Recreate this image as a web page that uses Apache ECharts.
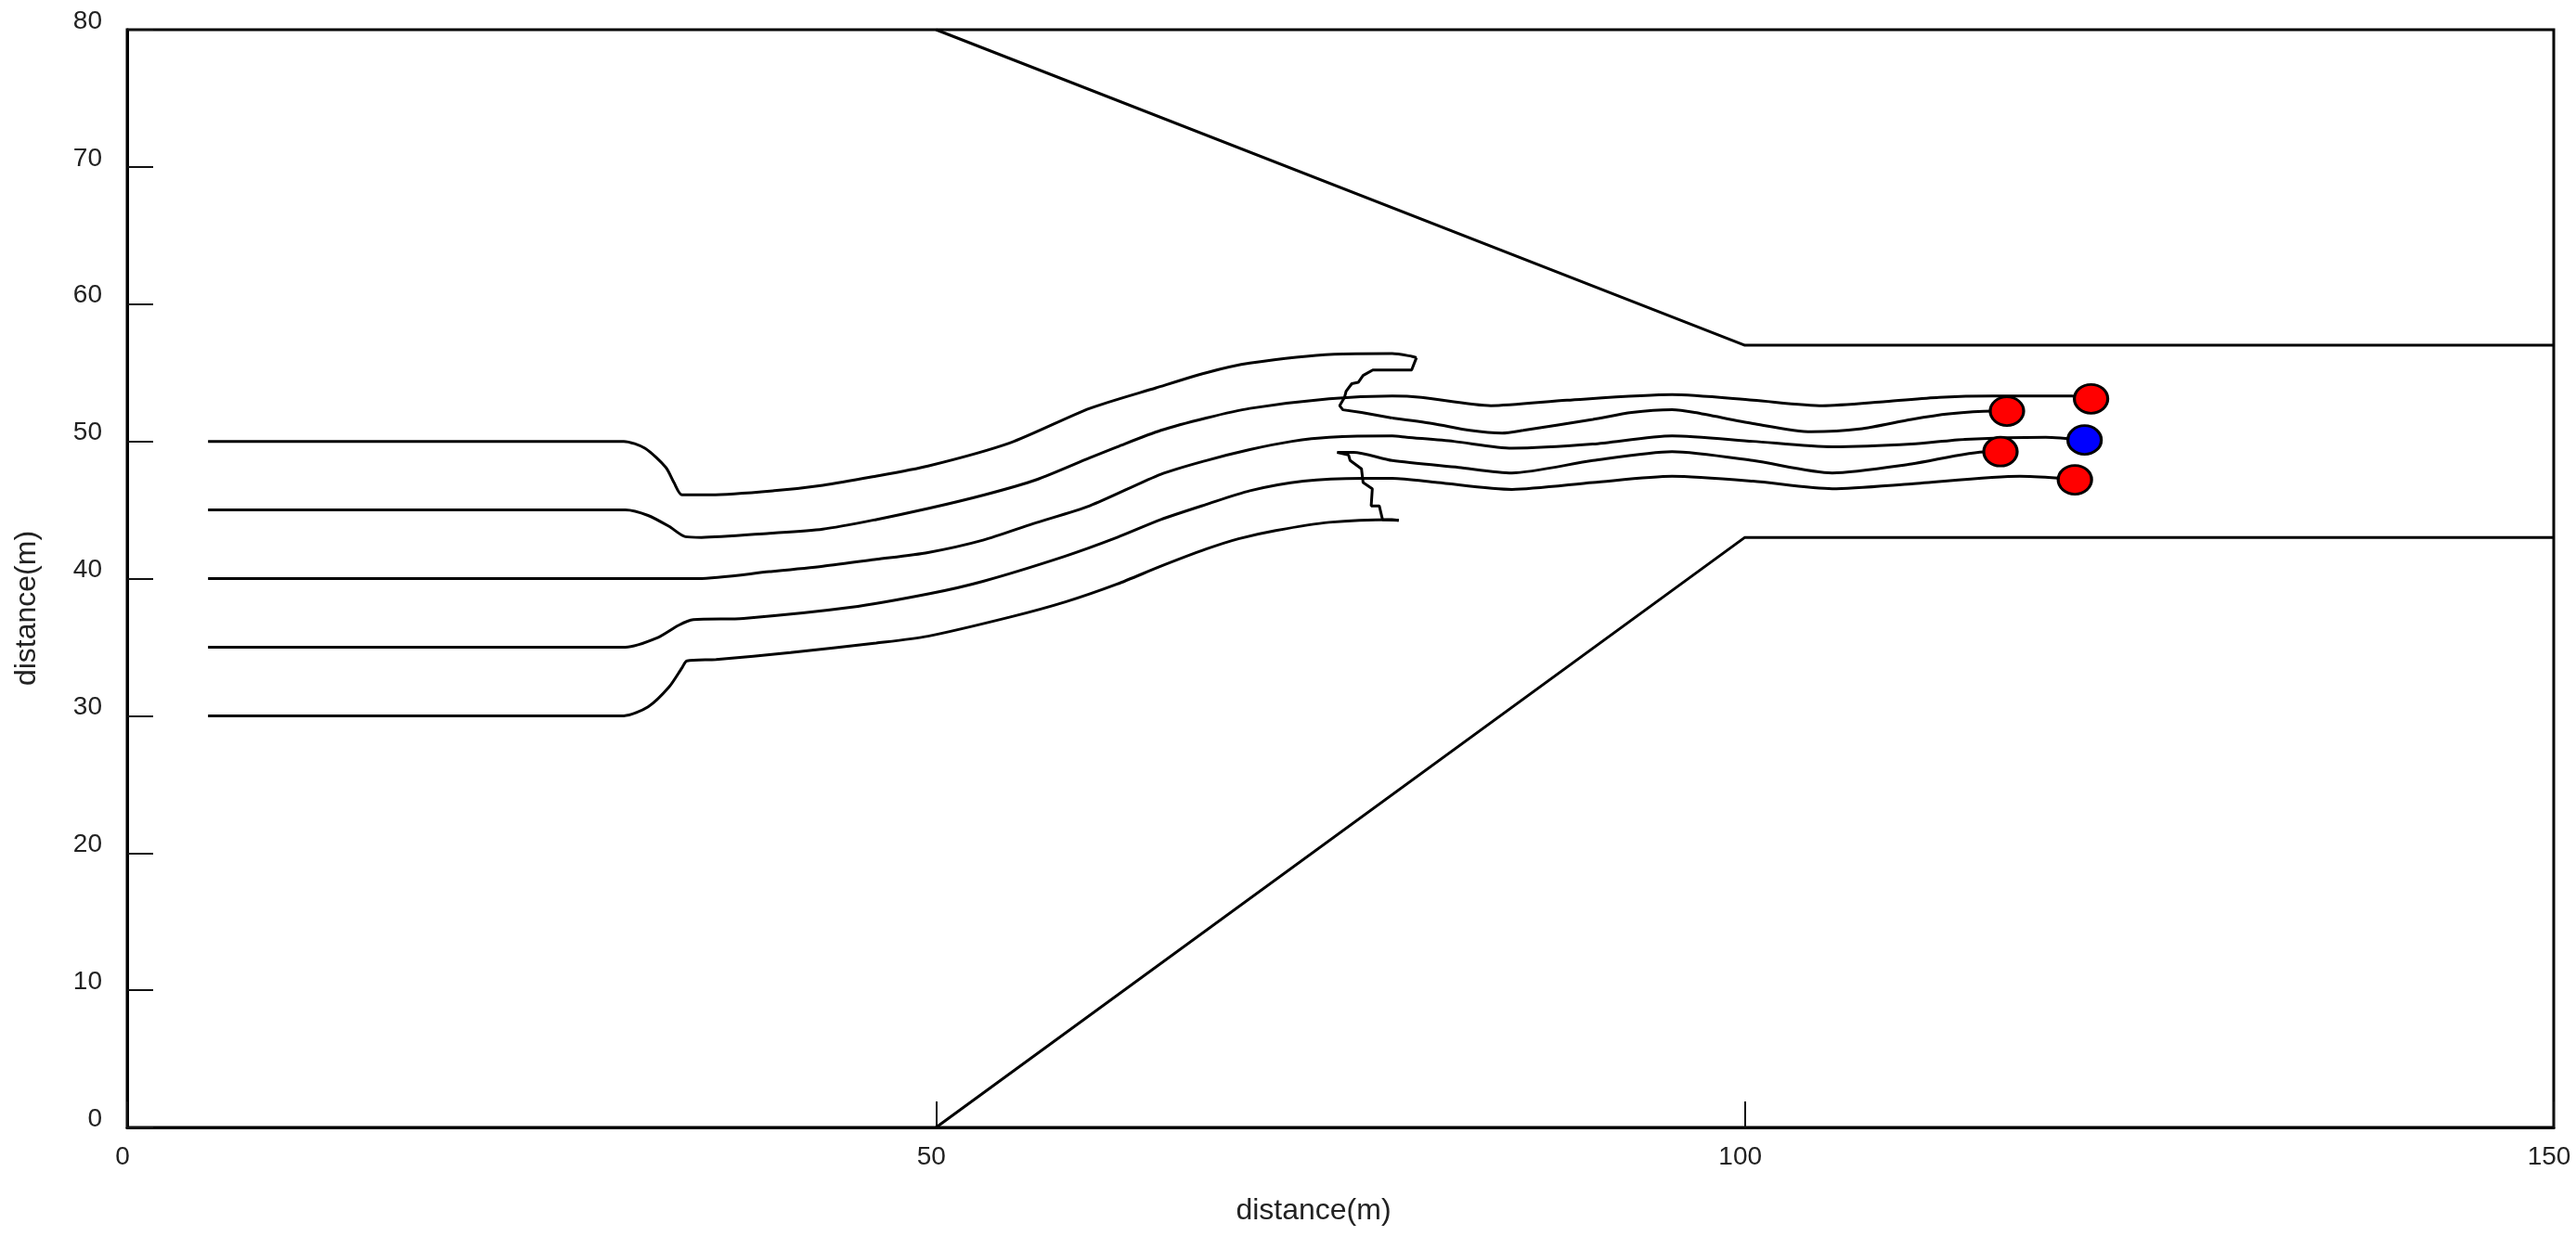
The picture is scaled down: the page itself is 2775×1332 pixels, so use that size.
<!DOCTYPE html>
<html>
<head>
<meta charset="utf-8">
<script src="https://cdn.jsdelivr.net/npm/echarts@6/dist/echarts.min.js"></script>
<style>
html,body{margin:0;padding:0;background:#fff;}
#chart{width:2775px;height:1332px;}
</style>
</head>
<body>
<div id="chart"></div>
<script>
// Axis ticks
var xTicks = [0, 50, 100, 150];
var yTicks = [0, 10, 20, 30, 40, 50, 60, 70, 80];

// Channel boundaries
var boundaryUpper = [[50, 80], [100, 57], [150, 57]];
var boundaryLower = [[50, 0], [100, 43], [150, 43]];

// Trajectory starting at y = 50
var trajA = [[5,50],[30.7,50],[32.0,49.5],[33.3,48.1],[33.8,47.0],[34.3,46.1],[36.1,46.1],[40,46.4],[43.0,46.8],[46,47.4],[49.5,48.2],[54.6,49.9],[59.5,52.4],[63.6,53.9],[66.7,55.0],[69.4,55.7],[74.6,56.35],[78.2,56.4],[79.4,56.2],[79.7,56.1]];
var trajAJump = [[79.7,56.1],[79.4,55.2],[78.2,55.2],[77.0,55.2],[76.4,54.8],[76.1,54.3],[75.7,54.2],[75.35,53.65],[75.25,53.2],[74.95,52.6],[75.15,52.3],[76.3,52.1],[78.2,51.7]];
var trajATail = [[78.2,51.7],[80.7,51.3],[83,50.8],[85.0,50.6],[86.3,50.8],[90.6,51.6],[93,52.1],[95.5,52.3],[96.9,52.1],[100.5,51.3],[104.1,50.7],[107.1,50.9],[110.3,51.6],[112.6,52.0],[115.3,52.2],[116.2,52.2]];

// Trajectory starting at y = 45
var trajB = [[5,45],[30.8,45],[32.2,44.6],[33.5,43.8],[34.5,43.05],[35.5,43.0],[39.7,43.3],[43,43.6],[46.3,44.3],[49.5,45.1],[53,46.1],[56.2,47.2],[59.5,48.8],[61.2,49.6],[63.9,50.8],[66.7,51.7],[69.4,52.4],[74.3,53.1],[78.2,53.3],[80,53.2],[84.3,52.6],[89.0,53.0],[95.5,53.4],[100.5,53.0],[104.8,52.6],[108.7,52.9],[112.0,53.2],[115.3,53.3],[120.2,53.3],[121.4,53.1]];

// Trajectory starting at y = 40
var trajC = [[5,40],[35.3,40],[39.7,40.5],[43,40.9],[46.3,41.4],[49.5,41.9],[52.9,42.8],[56,44.0],[59.5,45.3],[63.9,47.6],[66.7,48.6],[69.4,49.4],[72,50.0],[74.3,50.3],[78.2,50.4],[79.1,50.3],[82,50.0],[85.6,49.5],[90.6,49.8],[95.5,50.4],[100.5,50.0],[105.4,49.6],[110.3,49.8],[113.6,50.15],[118.6,50.3],[121.0,50.1]];

// Trajectory starting at y = 35
var trajD = [[5,35],[30.8,35],[32.8,35.7],[34.1,36.6],[35.0,37.0],[38.1,37.1],[44.7,37.9],[49.6,38.9],[52.9,39.8],[57.9,41.6],[61.2,43.0],[63.9,44.3],[66.7,45.4],[69.4,46.4],[72.7,47.1],[76.4,47.3],[78.2,47.3],[81,47.0],[85.6,46.5],[90.6,47.0],[95.5,47.45],[100.5,47.1],[105.4,46.55],[110.3,46.9],[117.0,47.45],[119.6,47.3],[120.4,47.2]];

// Trajectory starting at y = 30
var trajE = [[5,30],[30.7,30],[32.2,30.65],[33.5,32.1],[34.3,33.5],[34.6,34.0],[36.4,34.1],[41,34.6],[46.3,35.3],[49.5,35.8],[54.6,37.2],[58,38.3],[61.2,39.6],[63.9,40.9],[66.7,42.15],[68.7,42.9],[71.0,43.5],[74.3,44.1],[78.2,44.3],[78.6,44.25]];
var trajEJump = [[78.6,44.25],[77.6,44.3],[77.4,45.3],[76.9,45.3],[76.97,46.55],[76.4,47.0],[76.3,48.0],[75.6,48.6],[75.5,49.0],[74.8,49.2]];
var trajETail = [[74.8,49.2],[75.8,49.2],[78.2,48.6],[82.3,48.1],[85.6,47.7],[90.6,48.6],[95.5,49.25],[100.5,48.6],[105.4,47.7],[110.3,48.35],[115.0,49.25],[115.8,49.25]];

// Vehicles
var redVehicles = [[116.2,52.2],[121.4,53.1],[115.8,49.25],[120.4,47.2]];
var blueVehicles = [[121.0,50.1]];

var FONT = '"Liberation Sans", Arial, sans-serif';

function lineSeries(data, smooth) {
  return {
    type: 'line', data: data, showSymbol: false, symbol: 'none',
    smooth: smooth, silent: true, animation: false,
    lineStyle: { color: '#000', width: 3 }, z: 2
  };
}

var series = [
  lineSeries(boundaryUpper, false),
  lineSeries(boundaryLower, false),
  lineSeries(trajA, 0.25),
  lineSeries(trajAJump, false),
  lineSeries(trajATail, 0.25),
  lineSeries(trajB, 0.25),
  lineSeries(trajC, 0.25),
  lineSeries(trajD, 0.25),
  lineSeries(trajE, 0.25),
  lineSeries(trajEJump, false),
  lineSeries(trajETail, 0.25),
  {
    type: 'scatter', data: redVehicles, symbol: 'circle', symbolSize: [36, 31],
    itemStyle: { color: '#ff0000', borderColor: '#000', borderWidth: 3, opacity: 1 }, z: 5, animation: false
  },
  {
    type: 'scatter', data: blueVehicles, symbol: 'circle', symbolSize: [36, 31],
    itemStyle: { color: '#0000ff', borderColor: '#000', borderWidth: 3, opacity: 1 }, z: 5, animation: false
  }
];

var chart = echarts.init(document.getElementById('chart'), null, { renderer: 'canvas' });
chart.setOption({
  backgroundColor: '#ffffff',
  animation: false,
  grid: { left: 137, right: 24, top: 32, bottom: 117, show: true, borderColor: '#000', borderWidth: 3, backgroundColor: 'transparent' },
  xAxis: {
    type: 'value', min: xTicks[0], max: xTicks[xTicks.length - 1], interval: 50,
    name: 'distance(m)', nameLocation: 'middle', nameGap: 74,
    nameTextStyle: { fontFamily: FONT, fontSize: 32, color: '#222', padding: [0, 58, 0, 0] },
    axisLine: { show: true, lineStyle: { color: '#000', width: 3 } },
    axisTick: { show: true, inside: true, length: 28, lineStyle: { color: '#111', width: 2 } },
    axisLabel: { fontFamily: FONT, fontSize: 28, color: '#222', margin: 18, padding: [0, 10, 0, 0] },
    splitLine: { show: false }
  },
  yAxis: {
    type: 'value', min: yTicks[0], max: yTicks[yTicks.length - 1], interval: 10,
    name: 'distance(m)', nameLocation: 'middle', nameGap: 92, nameRotate: 90,
    nameTextStyle: { fontFamily: FONT, fontSize: 32, color: '#222', padding: [0, 64, 0, 0] },
    axisLine: { show: true, lineStyle: { color: '#000', width: 3 } },
    axisTick: { show: true, inside: true, length: 28, lineStyle: { color: '#111', width: 2 } },
    axisLabel: { fontFamily: FONT, fontSize: 28, color: '#222', margin: 27, verticalAlign: 'bottom', lineHeight: 18 },
    splitLine: { show: false }
  },
  series: series
});
</script>
</body>
</html>
